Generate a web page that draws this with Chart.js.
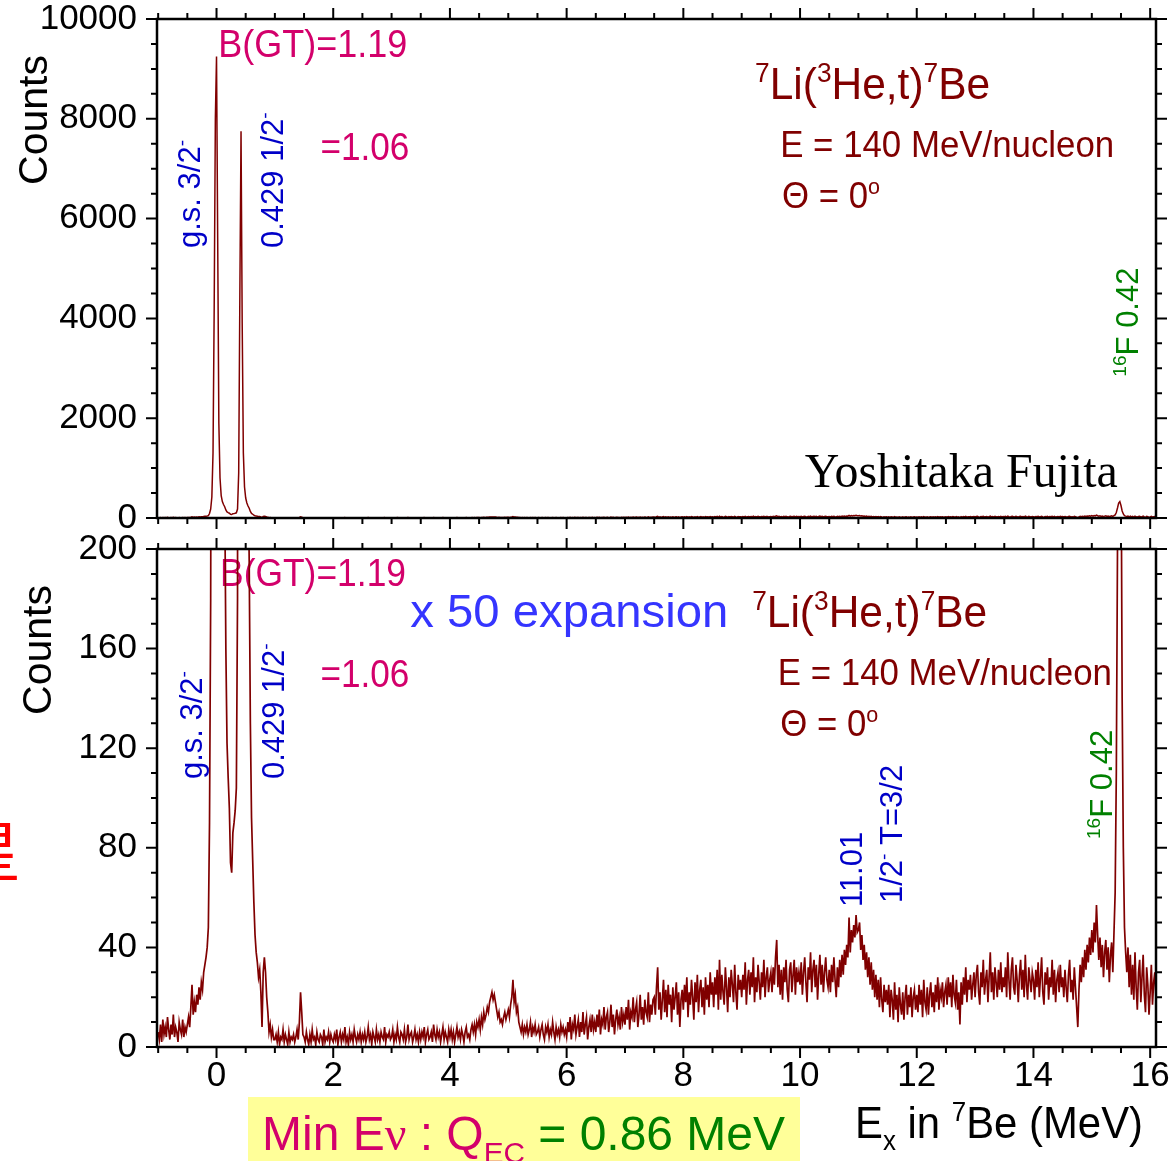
<!DOCTYPE html>
<html>
<head>
<meta charset="utf-8">
<script src="https://cdn.jsdelivr.net/npm/chart.js@4.4.1/dist/chart.umd.min.js"></script>
<style>
html, body { margin: 0; padding: 0; background: #fff; }
#wrap { position: relative; width: 1173px; height: 1161px; overflow: hidden; background: #fff; }
canvas { position: absolute; left: 0; }
#top { top: -40px; }
#bottom { top: 500px; }
</style>
</head>
<body>
<div id="wrap">
  <canvas id="top" width="1213" height="598"></canvas>
  <canvas id="bottom" width="1213" height="661"></canvas>
</div>
<script>
// 7Li(3He,t)7Be spectrum, channel energy = E_START + i * E_STEP (MeV)
const E_START = -1.0;
const E_STEP = 0.02;
const counts = [
  // -1.00 .. -0.52
  6,3,9,2,11,5,8,4,12,7,3,9,5,13,4,8,6,2,10,7,5,11,4,8,6,
  // -0.50 .. -0.02
  9,12,8,16,25,13,18,14,21,17,24,19,26,23,30,33,36,40,48,90,180,420,1300,4200,8000,
  // 0.00 .. 0.48  (g.s. and 0.429 peaks)
  9250,5600,1900,800,450,330,270,225,160,122,108,96,74,70,86,90,95,104,180,900,4500,7750,3900,1300,620,
  // 0.50 .. 0.98
  400,300,240,195,130,92,75,58,45,38,34,28,31,22,8,30,36,30,20,14,6,9,4,7,3,
  // 1.00 .. 1.48
  3,5,2,6,1,4,3,7,2,5,3,1,6,2,4,3,5,2,4,7,3,10,22,14,5,
  // 1.50 .. 1.98
  4,2,6,3,1,5,2,7,3,4,1,6,3,2,5,4,1,7,2,4,3,6,2,5,3,
  // 2.00 .. 2.48
  2,5,3,7,1,4,6,2,5,3,8,2,4,1,6,3,5,2,7,4,2,5,3,6,2,
  // 2.50 .. 2.98
  5,3,6,2,4,8,3,5,1,6,4,2,7,3,5,2,6,4,3,8,2,5,4,6,3,
  // 3.00 .. 3.48
  4,7,2,5,3,8,4,2,6,5,3,7,2,4,9,3,5,6,2,4,7,3,5,2,6,
  // 3.50 .. 3.98
  3,6,4,8,2,5,7,3,4,6,2,9,5,3,7,4,6,2,5,8,3,6,4,2,7,
  // 4.00 .. 4.48
  4,7,3,6,2,5,8,4,6,3,7,5,2,6,8,4,5,3,7,9,6,9,5,10,8,
  // 4.50 .. 4.98
  11,7,12,9,14,11,13,16,14,18,20,22,19,21,18,15,12,14,10,11,9,12,14,11,13,
  // 5.00 .. 5.48
  15,12,17,20,27,18,21,14,16,10,8,6,9,5,8,6,9,5,7,10,4,8,6,9,5,
  // 5.50 .. 5.98
  6,8,4,7,9,5,3,8,6,9,4,7,5,10,6,3,8,5,7,4,9,6,8,5,7,
  // 6.00 .. 6.48
  4,10,6,12,3,9,7,13,5,8,11,4,10,6,14,5,9,12,3,8,11,6,13,7,10,
  // 6.50 .. 6.98
  6,13,8,15,5,11,9,16,7,12,14,6,10,17,8,13,5,11,15,9,12,7,16,10,13,
  // 7.00 .. 7.48
  9,16,11,19,7,14,12,20,10,15,18,8,13,21,11,16,9,19,14,12,22,10,17,13,19,
  // 7.50 .. 7.98
  20,13,24,32,15,22,11,19,27,14,23,12,25,17,21,10,24,15,20,26,13,22,8,19,23,
  // 8.00 .. 8.48
  15,25,18,28,12,22,17,27,20,11,26,18,29,14,23,27,16,24,13,28,19,25,16,30,21,
  // 8.50 .. 8.98
  26,16,28,21,31,15,35,19,29,22,17,32,24,14,28,20,31,25,18,33,22,15,29,23,27,
  // 9.00 .. 9.48
  20,29,23,34,17,27,31,21,30,24,36,18,28,22,33,26,19,30,24,35,20,28,32,22,27,
  // 9.50 .. 9.98
  30,22,32,25,36,43,24,33,21,31,19,32,26,35,23,18,31,34,22,29,35,21,32,26,30,
  // 10.00 .. 10.48
  25,34,21,30,36,26,18,32,27,38,22,31,35,24,33,19,29,37,25,33,22,30,36,27,24,
  // 10.50 .. 10.98  (11.01 state)
  31,22,33,26,36,27,20,32,24,35,28,37,29,39,33,41,36,52,38,47,42,49,44,53,46,
  // 11.00 .. 11.48
  47,50,39,45,35,41,31,38,28,36,25,34,23,31,20,29,19,27,16,28,19,14,25,18,23,
  // 11.50 .. 11.98
  17,25,12,23,19,11,26,15,21,10,24,17,13,22,11,20,25,13,21,16,24,12,20,23,15,
  // 12.00 .. 12.48
  21,14,25,17,23,12,27,18,15,24,13,21,26,16,22,14,25,18,28,15,23,20,26,16,22,
  // 12.50 .. 12.98
  25,17,28,20,26,16,29,21,18,27,15,22,9,26,17,28,21,32,18,27,23,29,19,25,30,
  // 13.00 .. 13.48
  20,29,33,22,17,30,24,35,21,27,31,18,28,38,22,30,19,32,26,20,31,23,34,22,28,
  // 13.50 .. 13.98
  24,32,20,38,27,19,31,36,24,21,33,27,18,29,35,23,31,20,37,25,19,32,27,22,30,
  // 14.00 .. 14.48
  27,19,31,24,34,20,28,36,22,17,30,25,32,19,28,24,35,21,31,18,27,30,22,33,24,
  // 14.50 .. 14.98
  28,20,31,24,18,29,35,22,27,19,32,24,16,8,23,33,26,36,28,39,31,41,34,44,37,
  // 15.00 .. 15.48  (16F 0.42 peak)
  47,38,50,42,57,45,35,44,32,41,28,38,43,31,40,26,37,42,30,46,62,110,200,300,330,
  // 15.50 .. 15.98
  250,140,80,48,38,30,40,24,37,21,33,19,38,24,15,30,35,18,28,37,21,14,32,25,13,
  // 16.00 .. 16.10
  22,33,17,26,30,19
];

const xTickValues = [0, 2, 4, 6, 8, 10, 12, 14, 16];
const yTickValuesTop = [0, 2000, 4000, 6000, 8000, 10000];
const yTickValuesBottom = [0, 40, 80, 120, 160, 200];

const X_MIN = -1.02, X_MAX = 16.1;

const spectrum = counts.map((c, i) => ({ x: +(E_START + i * E_STEP).toFixed(2), y: c }));

const SANS = '"Liberation Sans", Arial, Helvetica, sans-serif';
const SERIF = '"Liberation Serif", "Times New Roman", serif';
const CJK = '"Noto Sans CJK JP", "Noto Sans CJK SC", sans-serif';
const MAGENTA = '#d3006b';
const BLUE = '#0000c8';
const LIGHT_BLUE = '#3535ff';
const DARK_RED = '#800000';
const GREEN = '#008000';
const LINE = '#800000';

function T(t, color, family) { return { t, color, family }; }
function SUP(t, color) { return { t, color, kind: 'sup' }; }
function SUB(t, color) { return { t, color, kind: 'sub' }; }

function drawRich(ctx, parts, size, fit) {
  let w = 0;
  const items = parts.map(p => {
    const s = p.kind ? size * 0.62 : size;
    ctx.font = s + 'px ' + (p.family || SANS);
    const m = ctx.measureText(p.t).width;
    const it = { p, s, x: w };
    w += m;
    return it;
  });
  if (fit) ctx.scale(fit / w, 1);
  ctx.textBaseline = 'alphabetic';
  ctx.textAlign = 'left';
  items.forEach(it => {
    ctx.font = it.s + 'px ' + (it.p.family || SANS);
    ctx.fillStyle = it.p.color;
    let dy = 0;
    if (it.p.kind === 'sup') dy = -size * 0.38;
    if (it.p.kind === 'sub') dy = size * 0.28;
    ctx.fillText(it.p.t, it.x, dy);
  });
}

// text placed in data units (E, counts)
function notesPlugin(notes, extra) {
  return {
    id: 'notes',
    beforeDatasetsDraw(chart) {
      const { ctx, scales: { x, y } } = chart;
      notes.forEach(n => {
        ctx.save();
        ctx.translate(x.getPixelForValue(n.x), y.getPixelForValue(n.y));
        if (n.rot) ctx.rotate(-Math.PI / 2);
        drawRich(ctx, n.parts, n.size, n.fit);
        ctx.restore();
      });
      if (extra) extra(ctx, chart);
    }
  };
}

function framePlugin(xStep, yStep) {
  return {
    id: 'frame',
    afterDraw(chart) {
      const { ctx, chartArea: a, scales: { x, y } } = chart;
      const MAJ = 11, MIN = 6;
      const xMajor = x.ticks.map(t => t.value);
      const yMajor = y.ticks.map(t => t.value);
      ctx.save();
      ctx.strokeStyle = '#000';
      ctx.lineWidth = 2;
      ctx.beginPath();
      for (let v = Math.ceil(x.min / xStep) * xStep; v <= x.max + 1e-9; v += xStep) {
        const px = x.getPixelForValue(v);
        const len = xMajor.some(m => Math.abs(m - v) < 1e-6) ? MAJ : MIN;
        ctx.moveTo(px, a.bottom); ctx.lineTo(px, a.bottom + len);
        ctx.moveTo(px, a.top); ctx.lineTo(px, a.top - len);
      }
      for (let v = y.min; v <= y.max + 1e-9; v += yStep) {
        const py = y.getPixelForValue(v);
        const len = yMajor.some(m => Math.abs(m - v) < 1e-6) ? MAJ : MIN;
        ctx.moveTo(a.left, py); ctx.lineTo(a.left - len, py);
        ctx.moveTo(a.right, py); ctx.lineTo(a.right + len, py);
      }
      ctx.stroke();
      ctx.lineWidth = 2.5;
      ctx.strokeRect(a.left, a.top, a.right - a.left, a.bottom - a.top);
      ctx.restore();
    }
  };
}

function countsTitle(ctx, bx, cy) {
  ctx.save();
  ctx.translate(bx, cy);
  ctx.rotate(-Math.PI / 2);
  ctx.font = '41px ' + SANS;
  ctx.fillStyle = '#000';
  ctx.textAlign = 'center';
  ctx.textBaseline = 'alphabetic';
  ctx.fillText('Counts', 0, 0);
  ctx.restore();
}

const tickFont = { family: SANS, size: 35, lineHeight: 1 };

function baseOptions(yMax, yTicks, padTop, xHeight, showX) {
  return {
    responsive: false,
    animation: false,
    events: [],
    layout: { padding: { left: 0, right: 57, top: padTop, bottom: 0 } },
    plugins: { legend: { display: false }, tooltip: { enabled: false } },
    scales: {
      x: {
        type: 'linear', min: X_MIN, max: X_MAX,
        afterBuildTicks: s => { s.ticks = xTickValues.map(v => ({ value: v })); },
        afterFit: s => { s.height = xHeight; },
        grid: { display: false, drawTicks: false },
        border: { display: false },
        ticks: { display: showX, font: tickFont, color: '#000', padding: 12, maxRotation: 0, autoSkip: false, callback: v => String(v) }
      },
      y: {
        type: 'linear', min: 0, max: yMax,
        afterBuildTicks: s => { s.ticks = yTicks.map(v => ({ value: v })); },
        afterFit: s => { s.width = 157; },
        grid: { display: false, drawTicks: false },
        border: { display: false },
        ticks: { font: tickFont, color: '#000', padding: 20, callback: v => String(v) }
      }
    }
  };
}

function dataset(width) {
  return { datasets: [{ data: spectrum, borderColor: LINE, borderWidth: width, pointRadius: 0, tension: 0, fill: false }] };
}

const topNotes = [
  { x: 0.03, y: 9240, size: 38, fit: 189, parts: [T('B(GT)=1.19', MAGENTA)] },
  { x: 1.78, y: 7180, size: 38, fit: 89, parts: [T('=1.06', MAGENTA)] },
  { x: -0.28, y: 5410, size: 31, rot: true, parts: [T('g.s. 3/2', BLUE), SUP('-', BLUE)] },
  { x: 1.14, y: 5410, size: 31, rot: true, parts: [T('0.429 1/2', BLUE), SUP('-', BLUE)] },
  { x: 9.23, y: 8400, size: 44, fit: 235, parts: [SUP('7', DARK_RED), T('Li(', DARK_RED), SUP('3', DARK_RED), T('He,t)', DARK_RED), SUP('7', DARK_RED), T('Be', DARK_RED)] },
  { x: 9.66, y: 7230, size: 36, fit: 334, parts: [T('E = 140 MeV/nucleon', DARK_RED)] },
  { x: 9.69, y: 6210, size: 36, fit: 98, parts: [T('\u0398 = 0', DARK_RED), SUP('o', DARK_RED)] },
  { x: 15.79, y: 2830, size: 31, rot: true, parts: [SUP('16', GREEN), T('F 0.42', GREEN)] },
  { x: 10.08, y: 620, size: 48, fit: 313, parts: [T('Yoshitaka Fujita', '#000', SERIF)] }
];

const bottomNotes = [
  { x: 0.06, y: 185, size: 38, fit: 186, parts: [T('B(GT)=1.19', MAGENTA)] },
  { x: 1.78, y: 144.6, size: 38, fit: 89, parts: [T('=1.06', MAGENTA)] },
  { x: -0.25, y: 107.6, size: 31, rot: true, parts: [T('g.s. 3/2', BLUE), SUP('-', BLUE)] },
  { x: 1.15, y: 107.6, size: 31, rot: true, parts: [T('0.429 1/2', BLUE), SUP('-', BLUE)] },
  { x: 3.32, y: 168.7, size: 46, fit: 318, parts: [T('x 50 expansion', LIGHT_BLUE)] },
  { x: 9.18, y: 168.7, size: 44, fit: 235, parts: [SUP('7', DARK_RED), T('Li(', DARK_RED), SUP('3', DARK_RED), T('He,t)', DARK_RED), SUP('7', DARK_RED), T('Be', DARK_RED)] },
  { x: 9.62, y: 145.4, size: 36, fit: 334, parts: [T('E = 140 MeV/nucleon', DARK_RED)] },
  { x: 9.66, y: 124.9, size: 36, fit: 98, parts: [T('\u0398 = 0', DARK_RED), SUP('o', DARK_RED)] },
  { x: 11.06, y: 56.2, size: 31, rot: true, parts: [T('11.01', BLUE)] },
  { x: 11.75, y: 57.8, size: 31, rot: true, parts: [T('1/2', BLUE), SUP('-', BLUE), T(' T=3/2', BLUE)] },
  { x: 15.35, y: 83.5, size: 31, rot: true, parts: [SUP('16', GREEN), T('F 0.42', GREEN)] }
];

new Chart(document.getElementById('top'), {
  type: 'line',
  data: dataset(1.5),
  options: baseOptions(10000, yTickValuesTop, 59, 40, false),
  plugins: [
    notesPlugin(topNotes, ctx => countsTitle(ctx, 47, 160)),
    framePlugin(0.5, 500)
  ]
});

new Chart(document.getElementById('bottom'), {
  type: 'line',
  data: dataset(1.7),
  options: baseOptions(200, yTickValuesBottom, 49, 114, true),
  plugins: [
    notesPlugin(bottomNotes, ctx => {
      countsTitle(ctx, 51, 150);
      // partly hidden slide character at the left edge
      ctx.save();
      ctx.font = '66px ' + CJK;
      ctx.fillStyle = '#ff0000';
      ctx.textAlign = 'right';
      ctx.textBaseline = 'middle';
      ctx.fillText('\u661F', 21, 351);
      ctx.restore();
      // highlighted box under the axis
      ctx.save();
      ctx.fillStyle = '#ffff99';
      ctx.fillRect(248, 597, 552, 64);
      ctx.translate(262, 650);
      drawRich(ctx, [T('Min E', MAGENTA), T('\u03BD', MAGENTA, SERIF), T(' : Q', MAGENTA), SUB('EC', MAGENTA), T(' = 0.86 MeV', GREEN)], 48, 523);
      ctx.restore();
      ctx.save();
      ctx.translate(855, 638);
      drawRich(ctx, [T('E', '#000'), SUB('x', '#000'), T(' in ', '#000'), SUP('7', '#000'), T('Be (MeV)', '#000')], 44, 288);
      ctx.restore();
    }),
    framePlugin(0.5, 10)
  ]
});
</script>
</body>
</html>
